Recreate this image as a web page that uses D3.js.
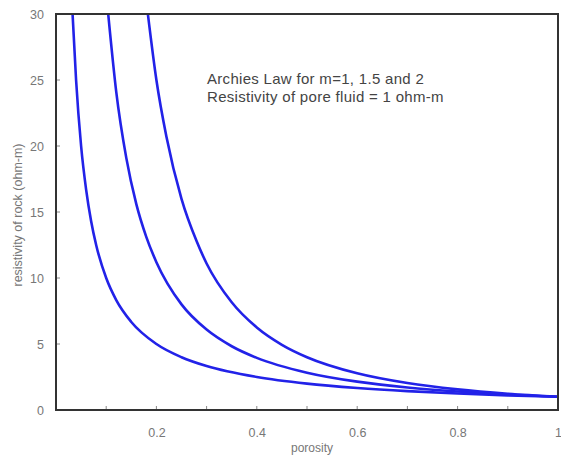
<!DOCTYPE html>
<html>
<head>
<meta charset="utf-8">
<script src="https://cdn.jsdelivr.net/npm/d3@7"></script>
<style>
  body { margin: 0; background: #fff; }
  text { font-family: "Liberation Sans", Arial, sans-serif; }
</style>
</head>
<body>
<div id="chart"></div>
<script>
// ------------------------- DATA -------------------------
// resistivity of rock (ohm-m) for each m

let porosity1 = [0.033, 0.04, 0.05, 0.06, 0.07, 0.08, 0.1, 0.12, 0.15, 0.2, 0.25, 0.3, 0.4, 0.5, 0.6, 0.7, 0.8, 0.9, 1.0];
let resist1   = [30, 25, 20, 16.7, 14.3, 12.5, 10, 8.33, 6.67, 5, 4, 3.33, 2.5, 2, 1.67, 1.43, 1.25, 1.11, 1];

let porosity15 = [0.104, 0.12, 0.14, 0.16, 0.18, 0.2, 0.25, 0.3, 0.35, 0.4, 0.5, 0.6, 0.7, 0.8, 0.9, 1.0];
let resist15   = [30, 24.1, 19.1, 15.6, 13.1, 11.2, 8.0, 6.09, 4.83, 3.95, 2.83, 2.15, 1.71, 1.40, 1.17, 1];

let porosity2 = [0.183, 0.2, 0.22, 0.25, 0.28, 0.3, 0.35, 0.4, 0.45, 0.5, 0.6, 0.7, 0.8, 0.9, 1.0];
let resist2   = [30, 25, 20.7, 16, 12.8, 11.1, 8.16, 6.25, 4.94, 4, 2.78, 2.04, 1.56, 1.23, 1];

let xTicks = [0.2, 0.4, 0.6, 0.8, 1];
let xMinor = [0.1, 0.2, 0.3, 0.4, 0.5, 0.6, 0.7, 0.8, 0.9];
let yTicks = [0, 5, 10, 15, 20, 25, 30];

let titleLines = ["Archies Law for m=1, 1.5 and 2", "Resistivity of pore fluid = 1 ohm-m"];

// ------------------------- SETUP -------------------------
let width = 561, height = 456;
let plotLeft = 56, plotRight = 558, plotTop = 14, plotBottom = 410;

let svg = d3.select("#chart")
            .append("svg")
            .attr("width", width)
            .attr("height", height)

let x = d3.scaleLinear().domain([0, 1]).range([plotLeft, plotRight]);
let y = d3.scaleLinear().domain([0, 30]).range([plotBottom, plotTop]);

svg.append("clipPath")
   .attr("id", "clip")
   .append("rect")
   .attr("x", plotLeft)
   .attr("y", plotTop)
   .attr("width", plotRight - plotLeft)
   .attr("height", plotBottom - plotTop)

// ------------------------- CURVES -------------------------
let series = [
  d3.zip(porosity1, resist1),
  d3.zip(porosity15, resist15),
  d3.zip(porosity2, resist2)
];

let line = d3.line()
             .x(d => x(d[0]))
             .y(d => y(d[1]))
             .curve(d3.curveMonotoneX)

svg.append("g")
   .attr("clip-path", "url(#clip)")
   .selectAll("path")
   .data(series)
   .enter()
   .append("path")
   .attr("d", line)
   .style("fill", "none")
   .style("stroke", "#2222e8")
   .style("stroke-width", 2.6)

// ------------------------- AXES -------------------------
// labels from d3 axes, inner tick marks drawn separately in grey
let xAxis = svg.append("g")
               .attr("transform", "translate(0," + plotBottom + ")")
               .call(d3.axisBottom(x).tickValues(xTicks).tickSize(0).tickPadding(18).tickFormat(d3.format("")))
xAxis.select(".domain").remove()
xAxis.selectAll("text").style("font-size", "12.5px").style("fill", "#777")

let yAxis = svg.append("g")
               .attr("transform", "translate(" + plotLeft + ",0)")
               .call(d3.axisLeft(y).tickValues(yTicks).tickSize(0).tickPadding(12))
yAxis.select(".domain").remove()
yAxis.selectAll("text").style("font-size", "12.5px").style("fill", "#777")

svg.selectAll(".xminor")
   .data(xMinor)
   .enter()
   .append("line")
   .attr("x1", d => x(d)).attr("x2", d => x(d))
   .attr("y1", plotBottom).attr("y2", plotBottom - 4)
   .style("stroke", "#888")

svg.selectAll(".yminor")
   .data(yTicks.slice(1, -1))
   .enter()
   .append("line")
   .attr("x1", plotLeft).attr("x2", plotLeft + 4)
   .attr("y1", d => y(d)).attr("y2", d => y(d))
   .style("stroke", "#888")

// frame
svg.append("rect")
   .attr("x", plotLeft)
   .attr("y", plotTop)
   .attr("width", plotRight - plotLeft)
   .attr("height", plotBottom - plotTop)
   .style("fill", "none")
   .style("stroke", "#333")
   .style("stroke-width", 2)

// ------------------------- LABELS -------------------------
svg.append("text")
   .attr("x", 312)
   .attr("y", 452)
   .attr("text-anchor", "middle")
   .style("font-size", "12px")
   .style("fill", "#777")
   .text("porosity")

svg.append("text")
   .attr("transform", "translate(22,215) rotate(-90)")
   .attr("text-anchor", "middle")
   .style("font-size", "12.5px")
   .style("fill", "#777")
   .text("resistivity of rock (ohm-m)")

svg.selectAll(".note")
   .data(titleLines)
   .enter()
   .append("text")
   .attr("x", 207)
   .attr("y", (d, i) => 84 + i * 18)
   .style("font-size", "15px")
   .style("letter-spacing", "0.3px")
   .style("fill", "#444")
   .text(d => d)
</script>
</body>
</html>
